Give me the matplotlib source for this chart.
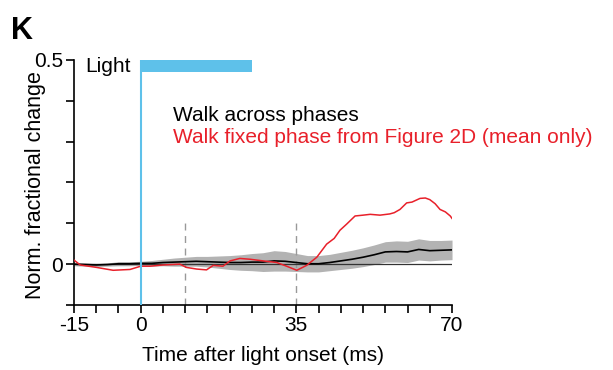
import numpy as np
import matplotlib.pyplot as plt

plt.rcParams['font.family'] = ['Liberation Sans', 'DejaVu Sans']

# red trace: walk fixed phase (mean only)
t_red = [-15, -13.6, -9.9, -6.2, -2.4, 0, 2.1, 5, 8.8, 10.3, 12.6, 14.8, 16.3, 18.5,
         20.1, 22.3, 24.6, 27.5, 30.6, 32.8, 35.1, 37.3, 39.6, 41.8, 43.5, 44.8, 46.3,
         48.2, 50, 51.6, 53.8, 56, 57, 58.3, 59.8, 61, 62.8, 64, 65, 66.2, 67.3, 68.5, 69.6, 70]
v_red = [0.010, -0.002, -0.008, -0.015, -0.013, -0.005, -0.005, -0.002, 0.0, -0.008,
         -0.012, -0.014, -0.003, -0.005, 0.008, 0.014, 0.012, 0.008, 0.004, -0.005,
         -0.015, -0.003, 0.017, 0.049, 0.063, 0.083, 0.098, 0.118, 0.120, 0.122, 0.120,
         0.123, 0.126, 0.134, 0.150, 0.152, 0.161, 0.162, 0.158, 0.148, 0.134, 0.128, 0.118, 0.112]

# black trace: walk across phases, mean and spread
t_blk = [-15, -12.5, -10, -7.5, -5, -2.5, 0, 2.5, 5, 7.5, 10, 12.5, 15, 17.5, 20, 22.5,
         25, 27.5, 30, 32.5, 35, 37.5, 40, 42.5, 45, 47.5, 50, 52.5, 55, 57.5, 60,
         62.5, 65, 67.5, 70]
v_blk = [0.0, -0.001, -0.002, -0.001, 0.001, 0.001, 0.002, 0.002, 0.004, 0.005, 0.006,
         0.007, 0.006, 0.005, 0.004, 0.004, 0.005, 0.005, 0.008, 0.007, 0.004, 0.001,
         0.001, 0.004, 0.008, 0.012, 0.017, 0.023, 0.030, 0.031, 0.030, 0.036, 0.033,
         0.034, 0.035]
e_blk = [0.004, 0.004, 0.004, 0.004, 0.005, 0.005, 0.005, 0.007, 0.008, 0.010, 0.011,
         0.012, 0.013, 0.015, 0.017, 0.019, 0.021, 0.023, 0.025, 0.024, 0.022, 0.020,
         0.020, 0.020, 0.021, 0.022, 0.023, 0.024, 0.025, 0.026, 0.026, 0.026, 0.025,
         0.024, 0.024]

light_on, light_off = 0, 25
dash_x = [10, 35]

blue = '#5EC1EA'
red = '#E8202A'
fs = 15

fig = plt.figure(figsize=(6.13, 3.70), dpi=100)
ax = fig.add_axes([0.1207, 0.1757, 0.6167, 0.6622])

v_blk = np.array(v_blk)
e_blk = np.array(e_blk)
ax.fill_between(t_blk, v_blk - e_blk, v_blk + e_blk, color='#B3B3B3', lw=0, zorder=1)
ax.axhline(0, color='#333333', lw=0.9, zorder=2)
for x in dash_x:
    ax.plot([x, x], [-0.1, 0.1], ls=(0, (5, 4)), color='#999999', lw=1, zorder=1)
ax.plot(t_blk, v_blk, color='black', lw=1.2, zorder=3)
ax.plot(t_red, v_red, color=red, lw=1.1, zorder=4)

ax.plot([light_on, light_on], [-0.1, 0.5], color=blue, lw=1.5, zorder=5)
ax.fill_between([light_on, light_off], 0.47, 0.5, color=blue, lw=0, zorder=5)
ax.text(-2.3, 0.483, 'Light', ha='right', va='center', fontsize=fs)

ax.text(7.2, 0.365, 'Walk across phases', color='black', fontsize=fs, va='center')
ax.text(7.2, 0.311, 'Walk fixed phase from Figure 2D (mean only)', color=red,
        fontsize=fs, va='center')

ax.set_xlim(-15, 70)
ax.set_ylim(-0.1, 0.5)
xt = np.arange(-15, 71, 5)
ax.set_xticks(xt)
ax.set_xticklabels([str(t) if t in (-15, 0, 35, 70) else '' for t in xt])
ax.set_yticks([-0.1, 0, 0.1, 0.2, 0.3, 0.4, 0.5])
ax.set_yticklabels(['', '0', '', '', '', '', '0.5'])
ax.tick_params(labelsize=fs, width=1.2, length=6, direction='out', pad=2)
for s in ['top', 'right']:
    ax.spines[s].set_visible(False)
for s in ['left', 'bottom']:
    ax.spines[s].set_linewidth(1.2)
ax.set_xlabel('Time after light onset (ms)', fontsize=fs, labelpad=8)
ax.set_ylabel('Norm. fractional change', fontsize=15.5)
ax.yaxis.set_label_coords(-0.075, 0.49)

fig.text(0.018, 0.895, 'K', fontsize=22, fontweight='bold')

fig.savefig('out.png', dpi=100)
